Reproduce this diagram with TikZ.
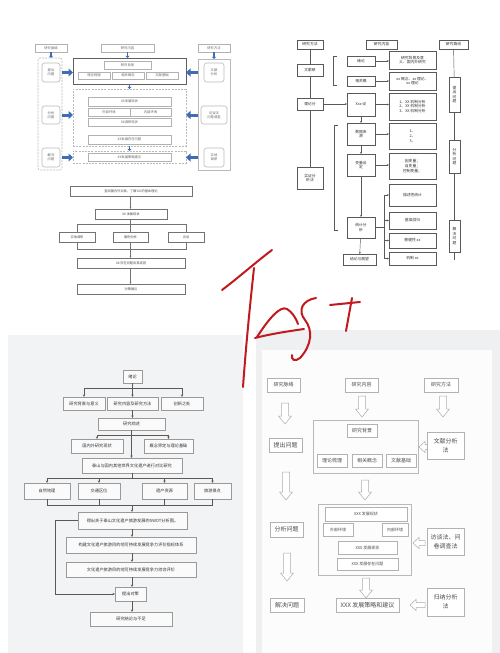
\documentclass[tikz,border=0pt]{standalone}
\usepackage{fontspec}
\setmainfont{Noto Sans CJK SC}
\usetikzlibrary{arrows.meta}
\definecolor{blueA}{HTML}{3F6DB3}
\definecolor{redH}{HTML}{C01A20}
\definecolor{panelL}{HTML}{F2F3F5}
\definecolor{panelR}{HTML}{EFF0F2}
\newcommand{\mybox}[7][]{\node[#1,minimum width={(#5-#3)*1pt},minimum height={(#6-#4)*1pt}] (#2) at ({(#3+#5)/2},{(#4+#6)/2}) {#7};}
\newcommand{\hdown}[3]{\draw[hollow] (#1-3.5,#2) -- (#1+3.5,#2) -- (#1+3.5,#3-8) -- (#1+6.5,#3-8) -- (#1,#3) -- (#1-6.5,#3-8) -- (#1-3.5,#3-8) -- cycle;}
\newcommand{\hleft}[3]{\draw[hollow] (#2,#1-2.5) -- (#3+6,#1-2.5) -- (#3+6,#1-5.5) -- (#3,#1) -- (#3+6,#1+5.5) -- (#3+6,#1+2.5) -- (#2,#1+2.5) -- cycle;}
\begin{document}
\begin{tikzpicture}[x=1pt,y=-1pt,
  abox/.style={draw=gray!60,line width=0.4pt,fill=white,inner sep=0.2pt,outer sep=0pt,align=center,font=\fontsize{3.3}{3.9}\selectfont,text=black!60},
  around/.style={abox,rounded corners=2.5pt,line width=0.6pt,draw=gray!55},
  apanel/.style={draw=gray!55,line width=0.6pt,inner sep=0pt,outer sep=0pt},
  adash/.style={apanel,dash pattern=on 2pt off 1.2pt},
  bluea/.style={blueA,line width=1.3pt,-{Triangle[length=2.2pt,width=4pt]}},
  bigblue/.style={blueA,line width=3pt,-{Triangle[length=4.5pt,width=8pt]}},
  bbox/.style={draw=black!65,line width=0.45pt,fill=white,inner sep=0.2pt,outer sep=0pt,align=center,font=\fontsize{3.8}{4.8}\selectfont,text=black!80},
  bline/.style={draw=black!65,line width=0.45pt},
  barr/.style={bline,-{Stealth[length=2pt,width=1.8pt]}},
  cbox/.style={draw=black!55,line width=0.45pt,fill=white,inner sep=0.2pt,outer sep=0pt,align=center,font=\fontsize{3.2}{3.8}\selectfont,text=black!70},
  cline/.style={draw=black!55,line width=0.45pt},
  carr/.style={cline,-{Stealth[length=2pt,width=1.6pt]}},
  dbox/.style={draw=gray!80,line width=0.5pt,fill=white!96!gray,inner sep=0.2pt,outer sep=0pt,align=center,font=\fontsize{4.2}{5}\selectfont,text=black!80},
  dline/.style={draw=black!65,line width=0.5pt},
  darr/.style={dline,-{Stealth[length=2.5pt,width=2.2pt]}},
  ebox/.style={draw=gray!60,line width=0.5pt,fill=white,inner sep=0.2pt,outer sep=0pt,align=center,font=\fontsize{5}{6.5}\selectfont,text=black!70},
  emeth/.style={ebox,font=\fontsize{6}{9}\selectfont},
  epanel/.style={draw=gray!55,line width=0.6pt,inner sep=0pt,outer sep=0pt},
  hollow/.style={draw=gray!65,line width=0.5pt,fill=white},
  redh/.style={draw=redH,line width=2pt,line cap=round,line join=round}]
\useasboundingbox (0,0) rectangle (500,653);
% backgrounds
\fill[white] (0,0) rectangle (500,653);
\fill[panelL] (8,335) rectangle (243,653);
\fill[panelR] (256,330) rectangle (500,653);
\fill[white!98!gray] (262,350) rectangle (492,653);

% ================= Diagram A (top left)
\mybox[adash,rounded corners=2pt]{Apl}{38}{58}{62}{170}{}
\mybox[apanel]{Apr}{198}{59}{230}{170}{}
\mybox[apanel,draw=gray!75!black,line width=0.8pt]{Ab1}{73}{58}{186}{84}{}
\mybox[adash]{Ab2}{73}{89}{186}{146}{}
\mybox[adash]{Ab3}{73}{151}{186}{163}{}
\mybox[abox]{Al}{35}{44}{67}{52}{研究脉络}
\mybox[abox]{Ac}{101}{44}{154}{52}{研究内容}
\mybox[abox]{Ar}{198}{44}{230}{52}{研究方法}
\mybox[around]{Al1}{42}{63}{60}{82}{提出\\问题}
\mybox[around]{Al2}{42}{106}{60}{124}{分析\\问题}
\mybox[around]{Al3}{42}{148}{60}{167}{解决\\问题}
\mybox[around]{Ar1}{204}{63}{224}{82}{文献\\分析}
\mybox[around]{Ar2}{201}{106}{227}{124}{访谈法\\问卷调查}
\mybox[around]{Ar3}{204}{148}{224}{167}{实地\\调研}
\mybox[abox]{Abg}{104}{61}{151}{69}{研究背景}
\mybox[abox]{At1}{78}{72}{110}{79}{理论梳理}
\mybox[abox]{At2}{112}{72}{144}{79}{相关概念}
\mybox[abox]{At3}{146}{72}{178}{79}{文献基础}
\mybox[abox]{As1}{88}{97}{171}{106}{XX发展现状}
\mybox[abox]{As2}{88}{108}{130}{116}{外部环境}
\mybox[abox]{As3}{130}{108}{171}{116}{内部环境}
\mybox[abox]{As4}{88}{118}{171}{126}{XX调研现状}
\mybox[abox]{As5}{88}{135}{171}{144}{XX发展存在问题}
\mybox[abox]{As6}{88}{153}{171}{161}{XX发展策略建议}
\draw[bluea] (Al.south) -- (Al.south |- Apl.north);
\draw[bluea] (Ac.south) -- (Ac.south |- Ab1.north);
\draw[bluea] (Ar.south) -- (Ar.south |- Apr.north);
\draw[bluea] (Ab1.south) -- (Ab2.north);
\draw[bluea] (Ab2.south) -- (Ab3.north);
\draw[bigblue] (Apl.east |- Al1) -- (Ab1.west |- Al1);
\draw[bigblue] (Apl.east |- Al2) -- (Ab2.west |- Al2);
\draw[bigblue] (Apl.east |- Al3) -- (Ab3.west |- Al3);
\draw[bigblue] (Apr.west |- Ar1) -- (Ab1.east |- Ar1);
\draw[bigblue] (Apr.west |- Ar2) -- (Ab2.east |- Ar2);
\draw[bigblue] (Apr.west |- Ar3) -- (Ab3.east |- Ar3);

% ================= Diagram B (top right)
\mybox[bbox]{Bm}{297}{40}{323}{49}{研究方法}
\mybox[bbox]{Bc}{366}{40}{397}{49}{研究内容}
\mybox[bbox]{Br}{439}{40}{468}{49}{研究路线}
\mybox[bbox]{Bm1}{297}{64}{323}{76}{文献研}
\mybox[bbox]{Bm2}{297}{98}{323}{110}{理论分}
\mybox[bbox]{Bm3}{297}{167}{323}{189}{实证分\\析法}
\mybox[bbox]{Bc1}{347}{56}{375}{66}{绪论}
\mybox[bbox]{Bc2}{347}{76}{375}{86}{相关概}
\mybox[bbox]{Bc3}{347}{93}{375}{116}{Xxx 设}
\mybox[bbox]{Bc4}{347}{123}{375}{145}{数据来\\源}
\mybox[bbox]{Bc5}{347}{154}{375}{176}{变量设\\定}
\mybox[bbox]{Bc6}{347}{217}{375}{238}{统计分\\析}
\mybox[bbox]{Bc7}{343}{254}{376}{265}{结论与展望}
\mybox[bbox]{Bd1}{389}{51}{436}{69}{研究背景及意\\义、国内外研究}
\mybox[bbox]{Bd2}{389}{72}{436}{90}{xx 概念、xx 理论、\\xx 理论}
\mybox[bbox]{Bd3}{389}{93}{436}{120}{1、XX 机制分析\\2、XX 机制分析\\3、XX 机制分析}
\mybox[bbox]{Bd4}{389}{123}{436}{149}{1、\\2、\\3、}
\mybox[bbox]{Bd5}{389}{153}{436}{179}{因变量；\\自变量；\\控制变量；}
\mybox[bbox]{Bd6}{389}{184}{436}{206}{描述性统计}
\mybox[bbox]{Bd7}{389}{212}{436}{229}{基准回归}
\mybox[bbox]{Bd8}{389}{233}{436}{248}{稳健性 xx}
\mybox[bbox]{Bd9}{389}{252}{436}{265}{机制 xx}
\mybox[bbox,font=\fontsize{3.8}{4.6}\selectfont]{Br1}{449}{77}{460}{112}{提\\出\\问\\题}
\mybox[bbox,font=\fontsize{3.8}{4.6}\selectfont]{Br2}{449}{140}{460}{173}{分\\析\\问\\题}
\mybox[bbox,font=\fontsize{3.8}{4.6}\selectfont]{Br3}{449}{220}{460}{252}{解\\决\\问\\题}
\draw[bline] (Bm) -- (Bm1); \draw[bline] (Bm1) -- (Bm2); \draw[bline] (Bm2) -- (Bm3);
\draw[bline] (Br) -- (Br1); \draw[bline] (Br1) -- (Br2); \draw[bline] (Br2) -- (Br3);
\draw[bline] (Br3.south) -- ++(0,8);
\draw[bline] (337,56) -- (333,56) -- (333,85) -- (337,85);
\draw[bline] (338,125) -- (334,125) -- (334,230) -- (338,230);
\draw[barr] (Bc1.east) -- (Bc1.east -| Bd1.west);
\draw[barr] (Bc2.east) -- (Bc2.east -| Bd2.west);
\draw[barr] (Bc3.east) -- (Bc3.east -| Bd3.west);
\draw[barr] (Bc4.east) -- (Bc4.east -| Bd4.west);
\draw[barr] (Bc5.east) -- (Bc5.east -| Bd5.west);
\draw[barr] (Bm2.east) -- (Bm2.east -| Bc3.west);
\draw[barr] (Bc3) -- (Bc4);
\draw[barr] (Bc4) -- (Bc5);
\draw[barr] (Bc5) -- (Bc6);
\draw[barr] (Bc6) -- (Bc7);
\coordinate (Bbr) at (384,227);
\draw[bline] (Bc6.east) -- (Bc6.east -| Bbr);
\draw[bline] (Bbr |- Bd6) -- (Bbr |- Bd9);
\foreach \k in {6,7,8,9} \draw[barr] (Bbr |- Bd\k) -- (Bd\k.west);

% ================= Diagram C (middle left)
\draw[cline] (77,224) rectangle (186,249);
\mybox[cbox]{C1}{70}{186}{192}{196}{查阅国内外文献，了解 XX 的基本理论}
\mybox[cbox]{C2}{95}{209}{167}{219}{XX 发展现状}
\mybox[cbox]{C3}{59}{232}{95}{242}{实地调研}
\mybox[cbox]{C4}{113}{232}{148}{242}{案例分析}
\mybox[cbox]{C5}{168}{232}{204}{242}{访谈}
\mybox[cbox]{C6}{77}{258}{185}{268}{XX 存在问题及其成因}
\mybox[cbox]{C7}{77}{284}{185}{294}{对策建议}
\draw[carr] (C1.south -| C4) -- (C2.north -| C4);
\draw[cline] (C2.south -| C4) -- (C4.north);
\draw[carr] (C4.south) -- (C6.north -| C4);
\draw[carr] (C6.south -| C4) -- (C7.north -| C4);

% ================= Diagram D (bottom left)
\mybox[dbox]{D1}{123}{370}{142}{383}{绪论}
\mybox[dbox]{D2}{63}{397}{105}{410}{研究背景与意义}
\mybox[dbox]{D3}{107}{397}{158}{410}{研究内容及研究方法}
\mybox[dbox]{D4}{161}{397}{203}{410}{创新之处}
\mybox[dbox]{D5}{98}{418}{165}{430}{研究综述}
\mybox[dbox]{D6}{71}{439}{123}{453}{国内外研究现状}
\mybox[dbox]{D7}{144}{439}{193}{453}{概念界定与理论基础}
\mybox[dbox]{D8}{82}{458}{182}{473}{泰山与国内其他世界文化遗产进行对比研究}
\mybox[dbox]{D9}{24}{483}{70}{499}{自然地理}
\mybox[dbox]{D10}{78}{483}{120}{499}{交通区位}
\mybox[dbox]{D11}{142}{483}{187}{499}{遗产资源}
\mybox[dbox]{D12}{194}{483}{231}{499}{旅游景点}
\mybox[dbox]{D13}{78}{512}{187}{529}{得出关于泰山文化遗产旅游发展的SWOT分析图。}
\mybox[dbox]{D14}{66}{537}{196}{553}{构建文化遗产旅游目的地可持续发展竞争力评价指标体系}
\mybox[dbox]{D15}{66}{562}{196}{577}{文化遗产旅游目的地可持续发展竞争力综合评价}
\mybox[dbox]{D16}{115}{587}{146}{601}{提出对策}
\mybox[dbox]{D17}{90}{612}{172}{626}{研究结论与不足}
\coordinate (Dj1) at (132.5,388);
\coordinate (Dj2) at (131.5,435);
\coordinate (Dj3) at (132,478);
\coordinate (Dj4) at (132,505);
\draw[dline] (D1.south) -- (Dj1);
\draw[dline] (D2.north |- Dj1) -- (D4.north |- Dj1);
\draw[darr] (D2.north |- Dj1) -- (D2.north);
\draw[darr] (D4.north |- Dj1) -- (D4.north);
\draw[darr] (Dj1) -- (D3.north -| Dj1);
\draw[darr] (D3.south -| Dj1) -- (D5.north -| Dj1);
\draw[dline] (D5.south -| Dj2) -- (Dj2);
\draw[dline] (D6.north |- Dj2) -- (D7.north |- Dj2);
\draw[darr] (D6.north |- Dj2) -- (D6.north);
\draw[darr] (D7.north |- Dj2) -- (D7.north);
\draw[darr] (Dj2) -- (D8.north -| Dj2);
\draw[dline] (D8.south -| Dj3) -- (Dj3);
\draw[dline] (D9.north |- Dj3) -- (D12.north |- Dj3);
\foreach \k in {9,10,11,12} \draw[darr] (D\k.north |- Dj3) -- (D\k.north);
\foreach \k in {9,10,11,12} \draw[dline] (D\k.south) -- (D\k.south |- Dj4);
\draw[dline] (D9.south |- Dj4) -- (D12.south |- Dj4);
\draw[darr] (Dj4) -- (D13.north -| Dj4);
\draw[darr] (D13.south -| Dj4) -- (D14.north -| Dj4);
\draw[darr] (D14.south -| Dj4) -- (D15.north -| Dj4);
\draw[darr] (D15.south -| Dj4) -- (D16.north -| Dj4);
\draw[darr] (D16.south -| Dj4) -- (D17.north -| Dj4);
\draw[darr] (D13.west) -- ++(-23,0) |- (D16.west);

% ================= Diagram E (bottom right)
\mybox[epanel]{Eb1}{313}{420}{418}{473}{}
\mybox[epanel]{Eb2}{318}{504}{411}{575}{}
\mybox[ebox]{El}{267}{378}{300}{392}{研究脉络}
\mybox[ebox]{Ec}{345}{378}{378}{392}{研究内容}
\mybox[ebox]{Er}{424}{378}{458}{392}{研究方法}
\mybox[emeth]{El1}{269}{438}{302}{452}{提出问题}
\mybox[emeth]{El2}{270}{522}{303}{537}{分析问题}
\mybox[emeth]{El3}{270}{598}{304}{612}{解决问题}
\mybox[ebox]{Ebg}{347}{424}{377}{437}{研究背景}
\mybox[ebox]{Et1}{317}{454}{347}{467}{理论梳理}
\mybox[ebox]{Et2}{352}{454}{382}{467}{相关概念}
\mybox[ebox]{Et3}{386}{454}{416}{467}{文献基础}
\mybox[ebox,font=\fontsize{4}{5}\selectfont]{Es1}{325}{507}{407}{521}{XXX 发展现状}
\mybox[ebox,font=\fontsize{4}{5}\selectfont]{Es2}{323}{523}{353}{536}{外部环境}
\mybox[ebox,font=\fontsize{4}{5}\selectfont]{Es3}{382}{523}{408}{536}{内部环境}
\mybox[ebox,font=\fontsize{4}{5}\selectfont]{Es4}{338}{541}{397}{554}{XXX 发展现状}
\mybox[ebox,font=\fontsize{4}{5}\selectfont]{Es5}{337}{558}{398}{570}{XXX 发展存在问题}
\mybox[emeth]{Es6}{336}{598}{399}{612}{XXX 发展策略和建议}
\mybox[emeth]{Em1}{427}{432}{464}{459}{文献分析\\法}
\mybox[emeth]{Em2}{427}{528}{464}{555}{访谈法、问\\卷调查法}
\mybox[emeth]{Em3}{427}{588}{464}{616}{归纳分析\\法}
\hdown{285}{403}{424}
\hdown{362}{396}{417}
\hdown{443}{396}{417}
\hdown{286}{472}{500}
\hdown{365}{480}{500}
\hdown{287}{553}{581}
\hdown{366}{578}{598}
\hleft{447}{427}{419}
\hleft{543}{425}{413}
\hleft{605}{425}{410}

% ================= red handwriting
\draw[redh] (222,290) .. controls (238,278) and (256,262) .. (272,250);
\draw[redh] (254,268) .. controls (250,305) and (246,345) .. (243,387);
\draw[redh] (257,337) .. controls (268,320) and (280,305) .. (287,309) .. controls (292,312) and (296,318) .. (298,324);
\draw[redh] (255,338) .. controls (270,334) and (290,331) .. (304,329);
\draw[redh] (316,298) .. controls (303,300) and (297,310) .. (305,320) .. controls (313,330) and (312,345) .. (300,358) .. controls (295,362) and (291,360) .. (292,355);
\draw[redh] (330,305) -- (360,302);
\draw[redh] (352,298) -- (346,331);
\end{tikzpicture}
\end{document}
